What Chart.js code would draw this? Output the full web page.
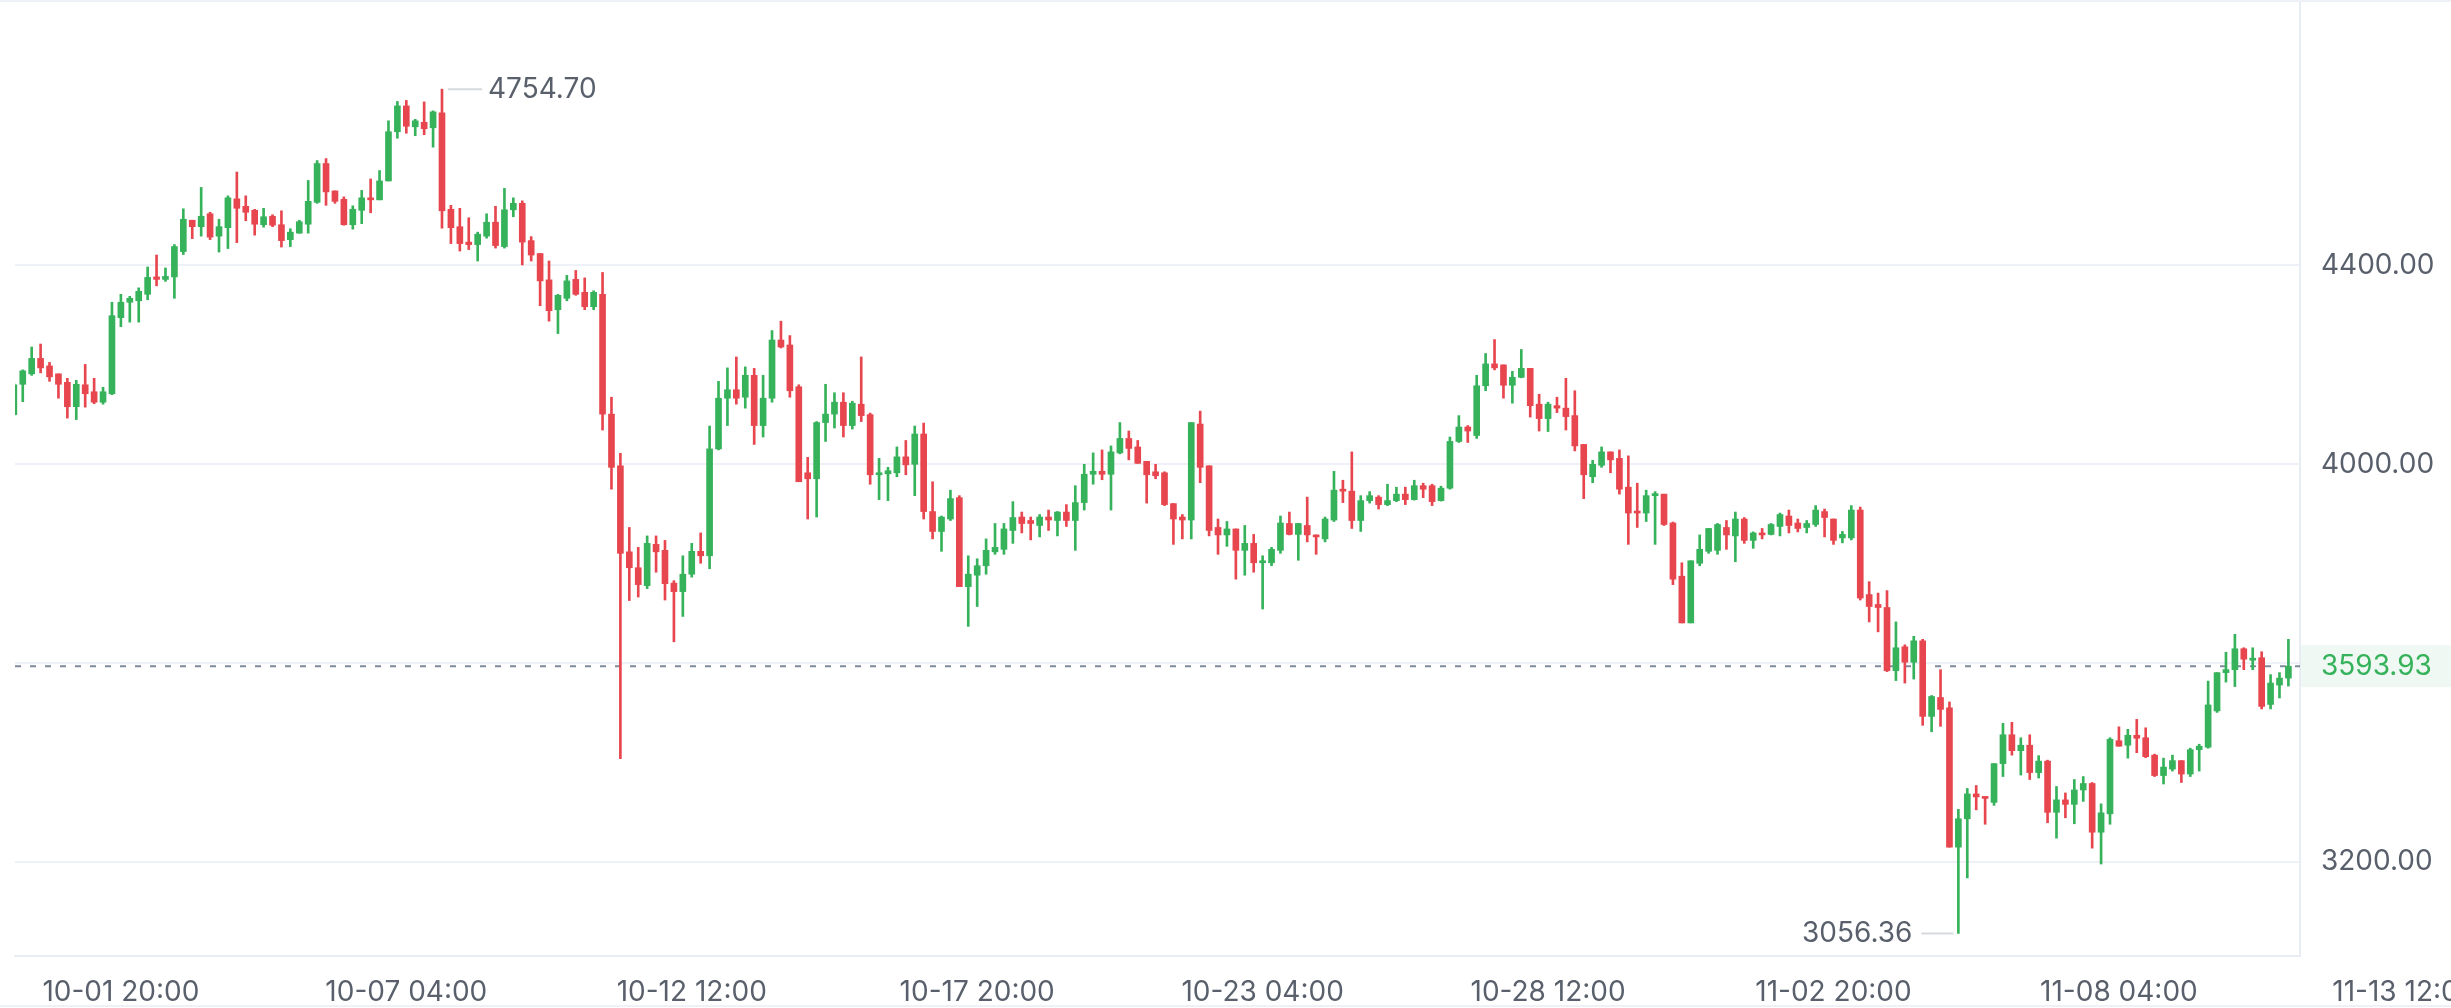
<!DOCTYPE html>
<html>
<head>
<meta charset="utf-8">
<script src="https://cdn.jsdelivr.net/npm/chart.js@4.4.1/dist/chart.umd.min.js"></script>
<style>
  html, body { margin: 0; padding: 0; background: #fff; }
  #wrap { width: 2451px; height: 1008px; position: relative; }
</style>
</head>
<body>
<div id="wrap"><canvas id="kline"></canvas></div>
<script>
// 4h candles, first one is 09-29 20:00
const opens = [
  4100, 4161, 4182, 4213, 4198, 4182, 4165, 4116, 4160, 4146, 4125, 4142, 4295, 4326, 4329, 4342,
  4377, 4372, 4377, 4428, 4491, 4478, 4504, 4459, 4476, 4534, 4519, 4511, 4482, 4499, 4482, 4452,
  4465, 4483, 4527, 4605, 4550, 4533, 4482, 4511, 4536, 4532, 4570, 4669, 4721, 4679, 4688, 4677,
  4707, 4513, 4478, 4447, 4442, 4459, 4487, 4438, 4512, 4525, 4450, 4424, 4371, 4311, 4334, 4372,
  4346, 4317, 4342, 4101, 3997, 3824, 3792, 3756, 3839, 3827, 3761, 3744, 3779, 3825, 3816, 4031,
  4133, 4150, 4135, 4179, 4078, 4133, 4250, 4240, 4156, 3983, 3971, 4084, 4101, 4125, 4078, 4121,
  4100, 3979, 3981, 3983, 4015, 4000, 4061, 3905, 3865, 3890, 3933, 3754, 3777, 3796, 3824, 3829,
  3867, 3894, 3887, 3877, 3894, 3887, 3904, 3887, 3923, 3980, 3986, 3980, 4023, 4052, 4035, 4006,
  3985, 3983, 3921, 3894, 3888, 4081, 3997, 3873, 3858, 3870, 3827, 3841, 3802, 3802, 3827, 3881,
  3859, 3877, 3858, 3850, 3888, 3950, 3946, 3887, 3927, 3934, 3919, 3927, 3940, 3929, 3957, 3957,
  3927, 3952, 4046, 4075, 4058, 4158, 4202, 4200, 4159, 4175, 4193, 4121, 4092, 4118, 4113, 4098,
  4040, 3975, 3998, 4025, 4012, 3954, 3904, 3902, 3937, 3940, 3882, 3775, 3681, 3801, 3825, 3827,
  3873, 3856, 3890, 3847, 3862, 3859, 3875, 3896, 3882, 3873, 3879, 3905, 3890, 3852, 3852, 3908,
  3738, 3718, 3712, 3585, 3633, 3602, 3645, 3493, 3531, 3510, 3230, 3287, 3337, 3331, 3320, 3398,
  3456, 3424, 3435, 3380, 3403, 3300, 3325, 3316, 3345, 3358, 3260, 3297, 3444, 3435, 3455, 3450,
  3415, 3374, 3387, 3404, 3377, 3426, 3431, 3504, 3581, 3587, 3629, 3606, 3611, 3517, 3556, 3570
];
const highs = [
  4164, 4190, 4236, 4242, 4205, 4182, 4173, 4169, 4201, 4173, 4155, 4326, 4342, 4338, 4355, 4397,
  4421, 4395, 4442, 4514, 4491, 4557, 4507, 4493, 4540, 4588, 4540, 4513, 4515, 4502, 4510, 4474,
  4491, 4571, 4611, 4615, 4550, 4538, 4520, 4551, 4574, 4591, 4691, 4730, 4732, 4694, 4729, 4711,
  4754.70, 4521, 4515, 4496, 4467, 4504, 4519, 4555, 4536, 4530, 4458, 4424, 4409, 4342, 4380, 4390,
  4375, 4349, 4386, 4135, 4022, 3873, 3833, 3856, 3856, 3847, 3766, 3816, 3841, 3862, 4077, 4167,
  4194, 4216, 4196, 4193, 4179, 4269, 4288, 4259, 4160, 4014, 4086, 4161, 4144, 4144, 4127, 4216,
  4103, 4012, 3994, 4035, 4048, 4077, 4083, 3965, 3896, 3948, 3937, 3816, 3810, 3850, 3881, 3881,
  3925, 3904, 3894, 3899, 3908, 3905, 3919, 3957, 4000, 4023, 4029, 4037, 4084, 4067, 4048, 4006,
  4000, 3985, 3921, 3899, 4084, 4107, 3997, 3890, 3885, 3870, 3877, 3859, 3816, 3833, 3896, 3904,
  3881, 3934, 3858, 3894, 3986, 3968, 4025, 3937, 3945, 3937, 3960, 3954, 3954, 3968, 3962, 3960,
  3956, 4055, 4098, 4078, 4179, 4223, 4251, 4200, 4187, 4231, 4193, 4141, 4125, 4135, 4173, 4148,
  4040, 4008, 4035, 4025, 4029, 4017, 3962, 3948, 3945, 3940, 3884, 3802, 3806, 3858, 3871, 3881,
  3887, 3904, 3893, 3864, 3871, 3881, 3902, 3908, 3890, 3887, 3917, 3910, 3890, 3865, 3917, 3914,
  3764, 3741, 3746, 3683, 3637, 3654, 3648, 3535, 3587, 3522, 3306, 3348, 3354, 3331, 3398, 3479,
  3481, 3450, 3456, 3414, 3405, 3352, 3339, 3366, 3372, 3360, 3317, 3450, 3472, 3467, 3487, 3470,
  3417, 3409, 3415, 3404, 3429, 3437, 3564, 3581, 3622, 3658, 3631, 3631, 3623, 3577, 3581, 3648
];
const lows = [
  4098, 4126, 4179, 4184, 4167, 4133, 4093, 4090, 4115, 4122, 4121, 4140, 4277, 4286, 4286, 4331,
  4359, 4368, 4334, 4422, 4454, 4459, 4452, 4427, 4434, 4446, 4490, 4461, 4477, 4478, 4437, 4438,
  4465, 4465, 4525, 4521, 4525, 4481, 4473, 4484, 4506, 4532, 4570, 4656, 4666, 4661, 4663, 4638,
  4475, 4444, 4429, 4432, 4409, 4455, 4435, 4435, 4498, 4401, 4409, 4319, 4288, 4263, 4329, 4340,
  4311, 4311, 4069, 3950, 3408, 3726, 3733, 3750, 3783, 3727, 3643, 3694, 3773, 3801, 3790, 4029,
  4078, 4121, 4113, 4040, 4055, 4125, 4234, 4135, 3965, 3890, 3894, 4046, 4073, 4055, 4071, 4086,
  3960, 3929, 3927, 3975, 3979, 3937, 3890, 3850, 3825, 3887, 3754, 3674, 3714, 3779, 3819, 3819,
  3841, 3862, 3848, 3854, 3867, 3856, 3875, 3827, 3908, 3960, 3969, 3908, 4021, 4009, 4002, 3922,
  3971, 3917, 3839, 3850, 3850, 3963, 3856, 3819, 3835, 3769, 3777, 3783, 3709, 3796, 3821, 3858,
  3807, 3844, 3819, 3844, 3885, 3923, 3871, 3865, 3922, 3910, 3917, 3925, 3919, 3928, 3933, 3917,
  3926, 3950, 4044, 4044, 4052, 4148, 4190, 4133, 4123, 4174, 4095, 4067, 4066, 4104, 4069, 4027,
  3931, 3963, 3994, 3983, 3940, 3839, 3873, 3885, 3839, 3877, 3758, 3681, 3681, 3796, 3821, 3819,
  3829, 3804, 3841, 3831, 3850, 3858, 3856, 3862, 3864, 3862, 3875, 3854, 3839, 3842, 3848, 3727,
  3683, 3663, 3583, 3565, 3560, 3568, 3475, 3462, 3473, 3230, 3056.36, 3168, 3305, 3276, 3314, 3372,
  3415, 3375, 3366, 3369, 3279, 3248, 3289, 3277, 3322, 3228, 3196, 3276, 3433, 3409, 3420, 3410,
  3372, 3357, 3383, 3360, 3372, 3383, 3429, 3501, 3562, 3553, 3587, 3587, 3508, 3508, 3530, 3554
];
const closes = [
  4160, 4188, 4213, 4194, 4176, 4161, 4116, 4161, 4142, 4125, 4146, 4299, 4326, 4334, 4348, 4376,
  4372, 4378, 4438, 4493, 4478, 4499, 4457, 4478, 4536, 4515, 4507, 4483, 4498, 4481, 4450, 4467,
  4488, 4529, 4605, 4548, 4529, 4482, 4513, 4536, 4532, 4570, 4669, 4721, 4680, 4691, 4675, 4709,
  4510, 4476, 4444, 4442, 4463, 4487, 4440, 4512, 4525, 4447, 4421, 4369, 4309, 4340, 4369, 4342,
  4317, 4346, 4101, 3994, 3821, 3792, 3758, 3841, 3824, 3760, 3744, 3779, 3825, 3816, 4031, 4133,
  4150, 4133, 4179, 4078, 4133, 4250, 4236, 4148, 3965, 3971, 4084, 4101, 4125, 4078, 4123, 4098,
  3979, 3981, 3987, 4015, 3999, 4061, 3905, 3865, 3894, 3931, 3754, 3779, 3796, 3827, 3833, 3870,
  3893, 3881, 3881, 3894, 3888, 3904, 3887, 3923, 3980, 3986, 3980, 4025, 4052, 4032, 4002, 3979,
  3977, 3919, 3890, 3888, 4084, 3994, 3867, 3858, 3870, 3827, 3841, 3802, 3806, 3829, 3882, 3859,
  3881, 3858, 3854, 3890, 3948, 3946, 3887, 3927, 3937, 3919, 3927, 3940, 3929, 3957, 3950, 3925,
  3952, 4046, 4075, 4067, 4158, 4202, 4194, 4159, 4175, 4193, 4118, 4092, 4121, 4113, 4096, 4037,
  3979, 4000, 4025, 4009, 3950, 3902, 3902, 3937, 3940, 3879, 3769, 3681, 3806, 3829, 3871, 3879,
  3858, 3890, 3847, 3862, 3858, 3879, 3899, 3877, 3871, 3881, 3908, 3893, 3847, 3859, 3908, 3731,
  3714, 3712, 3585, 3631, 3602, 3645, 3493, 3533, 3507, 3230, 3287, 3337, 3331, 3328, 3398, 3456,
  3424, 3435, 3380, 3403, 3300, 3325, 3316, 3345, 3358, 3260, 3299, 3447, 3433, 3455, 3449, 3412,
  3374, 3391, 3404, 3377, 3426, 3433, 3516, 3581, 3587, 3629, 3608, 3610, 3513, 3560, 3570, 3593.93
];

const xTickIndex = [12, 44, 76, 108, 140, 172, 204, 236, 268];
const xTickLabels = ["10-01 20:00", "10-07 04:00", "10-12 12:00", "10-17 20:00", "10-23 04:00",
  "10-28 12:00", "11-02 20:00", "11-08 04:00", "11-13 12:00"];
const yTicks = [3200, 3600, 4000, 4400];

const UP = "#35b25a";
const DOWN = "#e8464f";
const TEXT = "#59606c";
const GRID = "#eef2f8";
const FONT = "Inter, 'Open Sans', sans-serif";

Chart.defaults.font.family = FONT;
Chart.defaults.font.size = 28;
Chart.defaults.color = TEXT;

const candleColors = opens.map((o, i) => (closes[i] >= o ? UP : DOWN));

// max / min markers, last price line and tag
const markers = {
  id: "markers",
  beforeDatasetsDraw(chart) {
    const { ctx, chartArea } = chart;
    const y = chart.scales.y.getPixelForValue(closes[closes.length - 1]);
    ctx.save();
    ctx.strokeStyle = "#7f8a9c";
    ctx.lineWidth = 2;
    ctx.setLineDash([6, 9]);
    ctx.beginPath();
    ctx.moveTo(chartArea.left, y);
    ctx.lineTo(chartArea.right, y);
    ctx.stroke();
    ctx.restore();
  },
  afterDraw(chart) {
    const { ctx, width, height } = chart;
    const xs = chart.scales.x, ys = chart.scales.y;
    ctx.save();
    // faint frame lines at top and bottom of the widget
    ctx.fillStyle = "#eef1f6";
    ctx.fillRect(0, 0, width, 2);
    ctx.fillRect(0, height - 3, width, 2);

    ctx.font = "28px " + FONT;
    ctx.textBaseline = "middle";
    ctx.lineWidth = 2;
    ctx.strokeStyle = "#d6d9de";
    ctx.fillStyle = TEXT;

    const hi = Math.max(...highs);
    const hiIdx = highs.indexOf(hi);
    let px = xs.getPixelForValue(hiIdx), py = ys.getPixelForValue(hi);
    ctx.beginPath();
    ctx.moveTo(px + 6, py);
    ctx.lineTo(px + 40, py);
    ctx.stroke();
    ctx.textAlign = "left";
    ctx.fillText(hi.toFixed(2), px + 46, py);

    const lo = Math.min(...lows);
    const loIdx = lows.indexOf(lo);
    px = xs.getPixelForValue(loIdx);
    py = ys.getPixelForValue(lo);
    ctx.beginPath();
    ctx.moveTo(px - 5, py);
    ctx.lineTo(px - 37, py);
    ctx.stroke();
    ctx.textAlign = "right";
    ctx.fillText(lo.toFixed(2), px - 46, py);

    const last = closes[closes.length - 1];
    py = ys.getPixelForValue(last);
    ctx.fillStyle = "#eff8f2";
    ctx.fillRect(ys.left + 1, py - 21, ys.right - ys.left, 42);
    ctx.fillStyle = UP;
    ctx.textAlign = "left";
    ctx.fillText(last.toFixed(2), ys.left + 21, py);
    ctx.restore();
  },
};

new Chart(document.getElementById("kline"), {
  type: "bar",
  data: {
    datasets: [
      {
        label: "body",
        data: opens.map((o, i) => ({ x: i, y: [o, closes[i]] })),
        backgroundColor: candleColors,
        barThickness: 6,
        minBarLength: 2,
        grouped: false,
      },
      {
        label: "wick",
        data: lows.map((l, i) => ({ x: i, y: [l, highs[i]] })),
        backgroundColor: candleColors,
        barThickness: 2,
        grouped: false,
      },
    ],
  },
  options: {
    responsive: true,
    maintainAspectRatio: false,
    animation: false,
    layout: { padding: { left: 15, top: 0, right: 0, bottom: 0 } },
    plugins: { legend: { display: false }, tooltip: { enabled: false } },
    scales: {
      x: {
        type: "linear",
        offset: false,
        min: 0.13,
        max: 256.3,
        grid: { display: false },
        border: { display: true, color: "#e8edf4", width: 2 },
        ticks: {
          autoSkip: false,
          maxRotation: 0,
          minRotation: 0,
          padding: 12,
          color: TEXT,
          callback: (v, i) => xTickLabels[i],
        },
        afterBuildTicks: (s) => { s.ticks = xTickIndex.map((v) => ({ value: v })); },
        afterFit: (s) => { s.height = 52; s.paddingLeft = 0; s.paddingRight = 0; },
      },
      y: {
        position: "right",
        min: 3011,
        max: 4934,
        grid: { color: GRID, lineWidth: 2, drawTicks: false },
        border: { display: true, color: "#e8edf4", width: 2 },
        ticks: { padding: 21, color: TEXT, callback: (v) => v.toFixed(2) },
        afterBuildTicks: (s) => { s.ticks = yTicks.map((v) => ({ value: v })); },
        afterFit: (s) => { s.width = 151; s.paddingTop = 0; s.paddingBottom = 0; },
      },
    },
  },
  plugins: [markers],
});
</script>
</body>
</html>
